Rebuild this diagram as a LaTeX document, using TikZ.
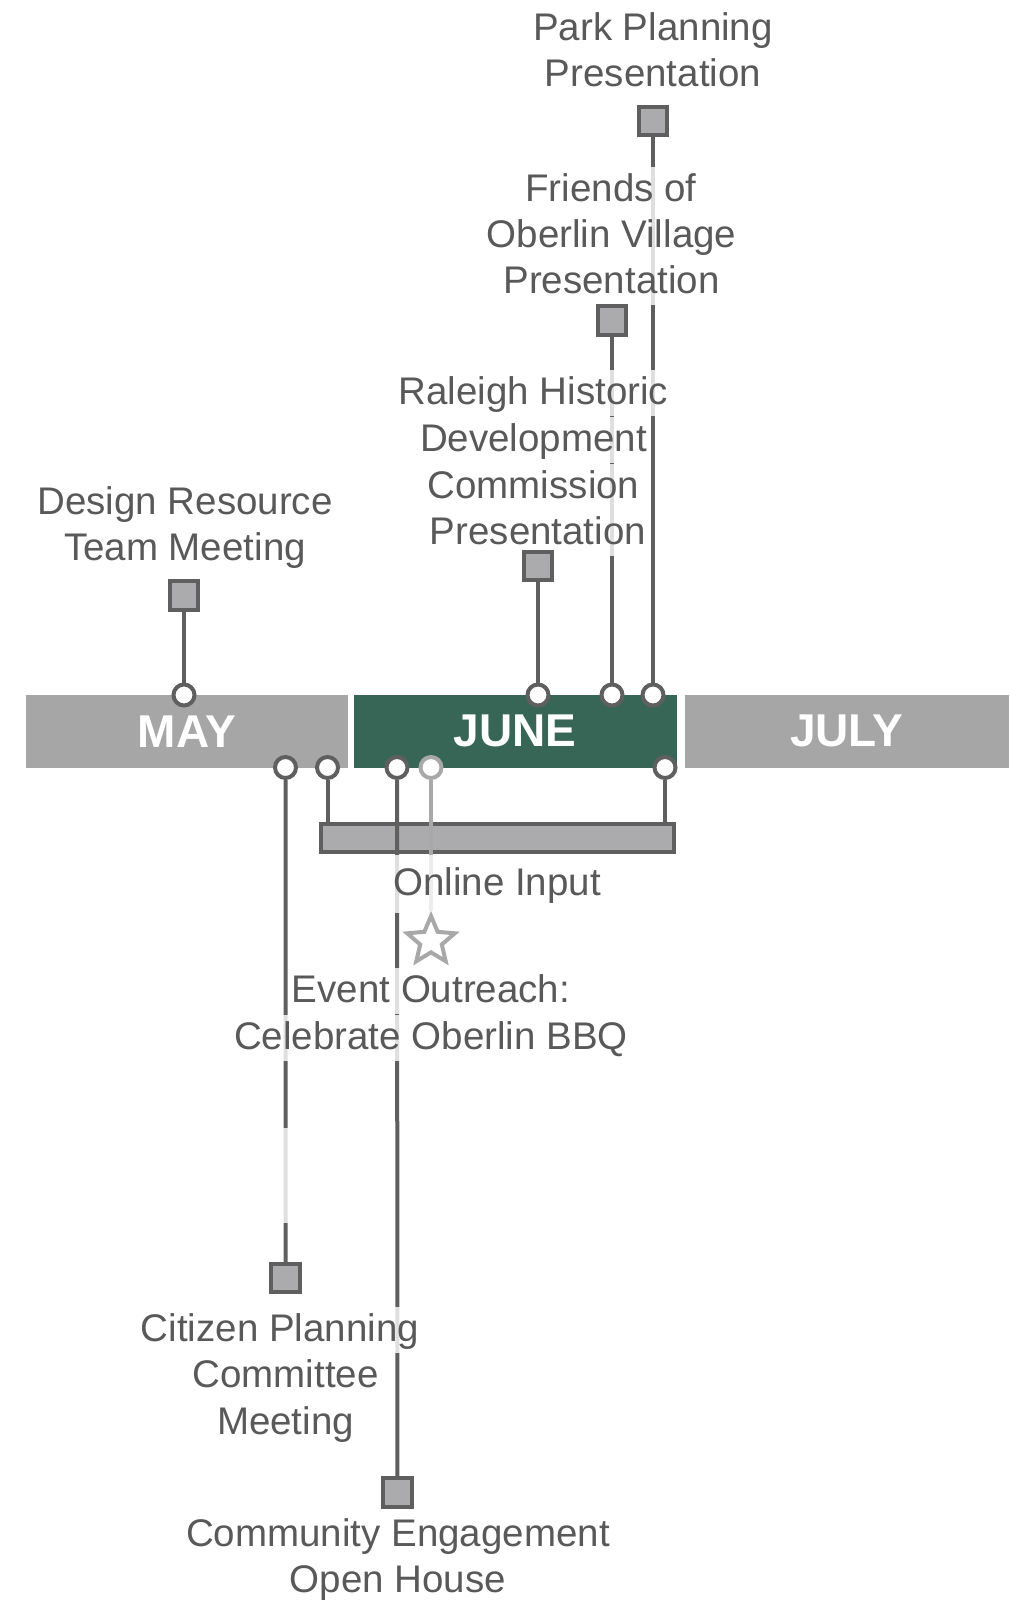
\documentclass[tikz,border=0pt]{standalone}
\usepackage{fontspec}
\setmainfont{Liberation Sans}
\usetikzlibrary{positioning,shapes.geometric}
\definecolor{tlDark}{HTML}{5F5F5F}
\definecolor{tlText}{HTML}{595959}
\definecolor{tlSquare}{HTML}{ABABAD}
\definecolor{tlMonth}{HTML}{A6A6A6}
\definecolor{tlJune}{HTML}{376656}
\definecolor{tlLight}{HTML}{A8A8A8}
\pgfdeclarelayer{front}
\pgfsetlayers{main,front}

\begin{document}
\begin{tikzpicture}[x=1pt,y=-1pt,
    month/.style={minimum height=72.5pt,inner sep=0pt,text=white,
      font=\fontsize{46}{50}\selectfont\bfseries},
    sq/.style={draw=tlDark,fill=tlSquare,line width=4pt,
      minimum size=28.5pt,inner sep=0pt},
    dot/.style={circle,draw=tlDark,fill=white,line width=4pt,
      minimum size=21pt,inner sep=0pt},
    conn/.style={draw=tlDark,line width=4pt},
    lbl/.style={fill=white,fill opacity=0.8,text opacity=1,text=tlText,
      inner xsep=3pt,inner ysep=0pt,text height=34.8pt,text depth=11.7pt,
      font=\fontsize{38.5}{46.5}\selectfont}]
  \useasboundingbox (0,0) rectangle (1009,1605);

  % months
  \node[month,fill=tlMonth,minimum width=322.4pt] (may) at (186.8,731.25) {MAY};
  \node[month,fill=tlJune,minimum width=322.5pt] (june) at (515.25,731.25) {JUNE};
  \node[month,fill=tlMonth,minimum width=324.4pt] (july) at (846.8,731.25) {JULY};

  % online input span
  \node[draw=tlDark,fill=tlSquare,line width=4pt,minimum width=353pt,
    minimum height=27.7pt,inner sep=0pt] (online) at (497.1,838.15) {};

  \begin{pgfonlayer}{front}
    \node[dot] (dDesign) at (184,695) {};
    \node[dot] (dRaleigh) at (538,695) {};
    \node[dot] (dFriends) at (612,695) {};
    \node[dot] (dPark) at (653,695) {};
    \node[dot] (dCitizen) at (285.5,767.5) {};
    \node[dot] (dOnlineA) at (327.5,767.5) {};
    \node[dot] (dCommunity) at (397,767.5) {};
    \node[dot,draw=tlLight] (dBbq) at (431,767.5) {};
    \node[dot] (dOnlineB) at (665,767.5) {};

    \node[sq] (sDesign) at (184,595.6) {};
    \node[sq] (sRaleigh) at (538,566) {};
    \node[sq] (sFriends) at (612,320.5) {};
    \node[sq] (sPark) at (653,121) {};
    \node[sq] (sCitizen) at (285.6,1278) {};
    \node[sq] (sCommunity) at (397.5,1492.5) {};
    \node[star,star points=5,star point ratio=2.2,draw=tlLight,fill=white,
      line width=4pt,minimum size=50pt,inner sep=0pt] (sBbq) at (431,941) {};
  \end{pgfonlayer}

  % connectors
  \draw[conn] (sDesign) -- (dDesign);
  \draw[conn] (sRaleigh) -- (dRaleigh);
  \draw[conn] (sFriends) -- (dFriends);
  \draw[conn] (sPark) -- (dPark);
  \draw[conn] (dCitizen) -- (sCitizen);
  \draw[conn] (dCommunity) -- (sCommunity);
  \draw[conn] (dOnlineA) -- (dOnlineA |- online.north);
  \draw[conn] (dOnlineB) -- (dOnlineB |- online.north);
  \draw[conn,draw=tlLight] (dBbq) -- (sBbq);
  \fill[white,fill opacity=0.8] (280,1128) rectangle (291,1223);

  % labels
  \node[lbl] (park1) at (653,28.7) {Park Planning};
  \node[lbl] (park2) at (653,74.7) {Presentation};

  \node[lbl] (friends1) at (611,190) {Friends of};
  \node[lbl] (friends2) at (611.5,236) {Oberlin Village};
  \node[lbl] (friends3) at (611.5,282) {Presentation};

  \node[lbl] (raleigh1) at (533.5,393) {Raleigh Historic};
  \node[lbl] (raleigh2) at (533.5,440) {Development};
  \node[lbl] (raleigh3) at (533.5,487) {Commission};
  \node[lbl] (raleigh4) at (538,533) {Presentation};

  \node[lbl] (design1) at (185,502.5) {Design Resource};
  \node[lbl] (design2) at (185,548.5) {Team Meeting};

  \node[lbl,minimum height=58pt] (onlineLbl) at (497,884) {Online Input};

  \node[lbl] (bbq1) at (431,991) {Event Outreach:};
  \node[lbl] (bbq2) at (431,1038) {Celebrate Oberlin BBQ};

  \node[lbl] (citizen1) at (280,1330) {Citizen Planning};
  \node[lbl] (citizen2) at (285.5,1376) {Committee};
  \node[lbl] (citizen3) at (285.5,1422.5) {Meeting};

  \node[lbl] (community1) at (398,1535) {Community Engagement};
  \node[lbl] (community2) at (398,1581) {Open House};
\end{tikzpicture}
\end{document}
